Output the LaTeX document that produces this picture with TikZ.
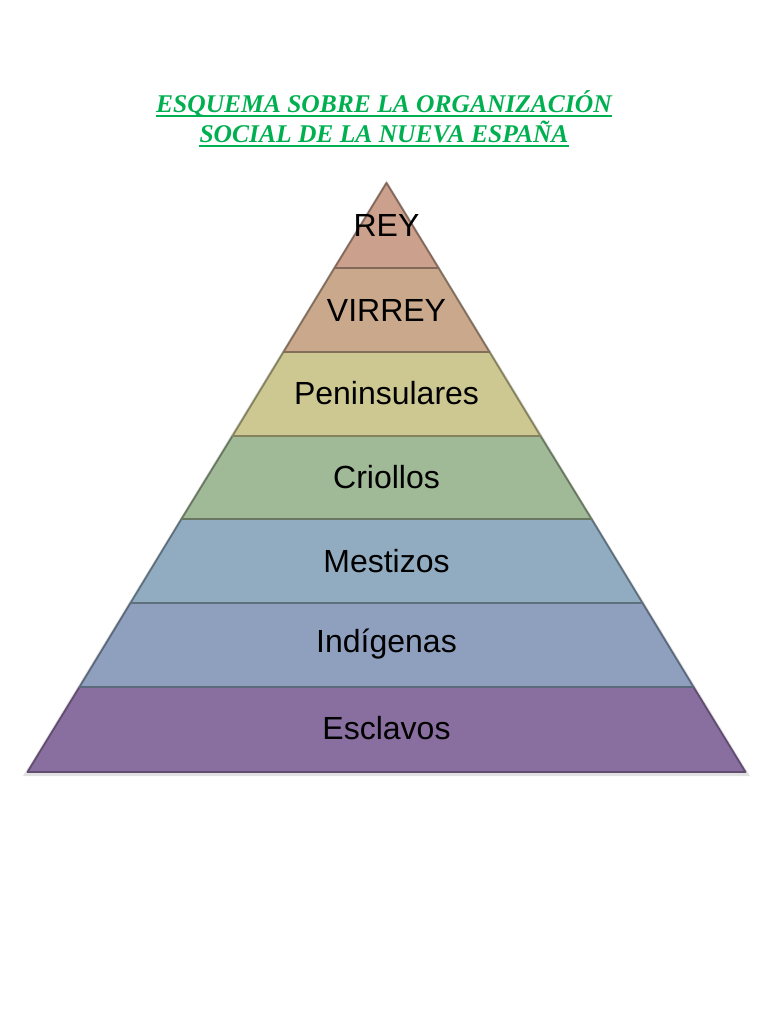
\documentclass[tikz,border=0pt]{standalone}
\usepackage{fontspec}
\setmainfont{Liberation Serif}
\setsansfont{Liberation Sans}
\definecolor{titlegreen}{RGB}{0,176,80}
\definecolor{reyc}{RGB}{203,160,140}
\definecolor{virreyc}{RGB}{201,168,140}
\definecolor{peninc}{RGB}{205,200,145}
\definecolor{crioc}{RGB}{160,185,150}
\definecolor{mestc}{RGB}{145,172,192}
\definecolor{indic}{RGB}{142,160,190}
\definecolor{esclc}{RGB}{137,110,160}
\begin{document}
\begin{tikzpicture}[x=1pt,y=-1pt,
		capa/.style={line width=1.8pt,line join=round},
		rotulo/.style={font=\sffamily\fontsize{32}{32}\selectfont,text=black},
		titulo/.style={text=titlegreen,inner sep=0pt,anchor=base,font=\bfseries\itshape\fontsize{25.5}{25.5}\selectfont},
		subraya/.style={draw=titlegreen,line width=1.2pt},
		sombra/.style={fill=black!35,opacity=0.35,line join=round}]
	\useasboundingbox (0,0) rectangle (768,1024);
	% titulo
	\node[titulo] (titulo1) at (384,113) {ESQUEMA SOBRE LA ORGANIZACIÓN};
	\node[titulo] (titulo2) at (384,143) {SOCIAL DE LA NUEVA ESPAÑA};
	\draw[subraya] ([yshift=-3pt]titulo1.base west) -- ([yshift=-3pt]titulo1.base east);
	\draw[subraya] ([yshift=-3pt]titulo2.base west) -- ([yshift=-3pt]titulo2.base east);
	% sombra de la piramide
	\fill[sombra] (386.5,180) -- (750,776) -- (23,776) -- cycle;
	% capas
	\draw[capa,fill=esclc,draw=esclc!70!black] (79.5,687) -- (693.5,687) -- (745.5,772) -- (27.5,772) -- cycle;
	\draw[capa,fill=indic,draw=indic!65!black] (130.5,603) -- (642.5,603) -- (693.5,687) -- (79.5,687) -- cycle;
	\draw[capa,fill=mestc,draw=mestc!65!black] (181.5,519) -- (591.5,519) -- (642.5,603) -- (130.5,603) -- cycle;
	\draw[capa,fill=crioc,draw=crioc!65!black] (232.5,436) -- (540.5,436) -- (591.5,519) -- (181.5,519) -- cycle;
	\draw[capa,fill=peninc,draw=peninc!65!black] (283.5,352) -- (489.5,352) -- (540.5,436) -- (232.5,436) -- cycle;
	\draw[capa,fill=virreyc,draw=virreyc!65!black] (334.5,268) -- (438.5,268) -- (489.5,352) -- (283.5,352) -- cycle;
	\draw[capa,fill=reyc,draw=reyc!65!black] (386.5,183) -- (438.5,268) -- (334.5,268) -- cycle;
	% rotulos
	\node[rotulo] (rey) at (386.5,225) {REY};
	\node[rotulo] (virrey) at (386.5,310) {VIRREY};
	\node[rotulo] (peninsulares) at (386.5,393) {Peninsulares};
	\node[rotulo] (criollos) at (386.5,477) {Criollos};
	\node[rotulo] (mestizos) at (386.5,561) {Mestizos};
	\node[rotulo] (indigenas) at (386.5,644) {Indígenas};
	\node[rotulo] (esclavos) at (386.5,728) {Esclavos};
\end{tikzpicture}
\end{document}
